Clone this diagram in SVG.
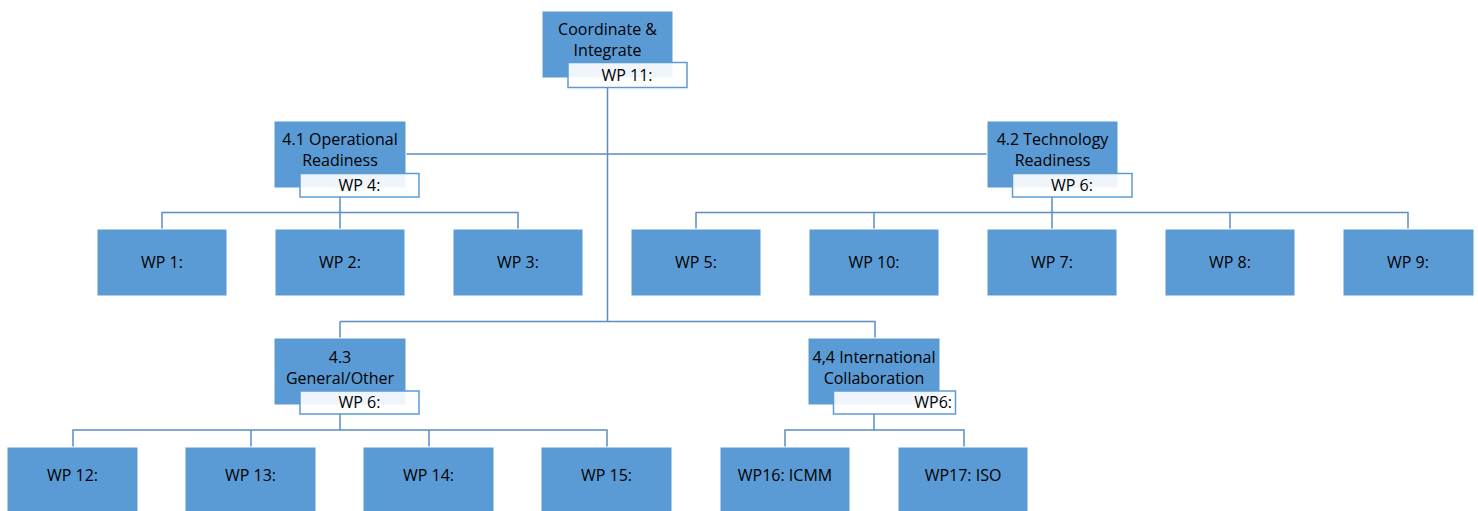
<svg xmlns="http://www.w3.org/2000/svg" width="1478" height="511" viewBox="0 0 1478 511">
<style>
.box{fill:#5b9bd5;stroke:#ffffff;stroke-width:1}
.lbl{fill:#ffffff;fill-opacity:0.9;stroke:#5b9bd5;stroke-width:1.5}
.t{font-family:"Open Sans","Liberation Sans",sans-serif;font-size:16px;fill:#000;text-anchor:middle}
.c{fill:none;stroke:#5b8cc4;stroke-width:1.5}
</style>
<rect width="1478" height="511" fill="#ffffff"/>
<g id="connectors">
<path class="c" d="M607.5 88V321.5M406 154H987M340 321.5H875V339M340 321.5V339"/>
<path class="c" d="M340 197V212.5M162 229V212.5H518V229M340 212.5V229"/>
<path class="c" d="M1052 197V212.5M696 229V212.5H1408V229M874 212.5V229M1052 212.5V229M1230 212.5V229"/>
<path class="c" d="M340 414V430M73 447V430H607V447M251 430V447M429 430V447"/>
<path class="c" d="M874 414V430M785 447V430H964V447"/>
</g>
<g id="n-top">
<rect class="box" x="542" y="11" width="131" height="67"/>
<text class="t" x="607.5" y="35">Coordinate &amp;</text>
<text class="t" x="607.5" y="56">Integrate</text>
<rect class="lbl" x="568" y="62.5" width="119" height="25"/>
<text class="t" x="627" y="81">WP 11:</text>
</g>
<g id="n-41">
<rect class="box" x="274" y="121" width="132" height="67"/>
<text class="t" x="340" y="145">4.1 Operational</text>
<text class="t" x="340" y="166">Readiness</text>
<rect class="lbl" x="300" y="173.5" width="119" height="23.5"/>
<text class="t" x="359.5" y="191">WP 4:</text>
</g>
<g id="n-42">
<rect class="box" x="987" y="121" width="131" height="67"/>
<text class="t" x="1052.5" y="145">4.2 Technology</text>
<text class="t" x="1052.5" y="166">Readiness</text>
<rect class="lbl" x="1012.5" y="173.5" width="119.5" height="23.5"/>
<text class="t" x="1072" y="191">WP 6:</text>
</g>
<g id="n-43">
<rect class="box" x="274" y="338" width="132" height="67"/>
<text class="t" x="340" y="363">4.3</text>
<text class="t" x="340" y="384">General/Other</text>
<rect class="lbl" x="300" y="391" width="119" height="23"/>
<text class="t" x="359.5" y="408">WP 6:</text>
</g>
<g id="n-44">
<rect class="box" x="808" y="338" width="132" height="67"/>
<text class="t" x="874" y="363">4,4 International</text>
<text class="t" x="874" y="384">Collaboration</text>
<rect class="lbl" x="833.5" y="391" width="122" height="23"/>
<text class="t" x="952" y="408" style="text-anchor:end">WP6:</text>
</g>
<g id="n-wp1"><rect class="box" x="97" y="229" width="130" height="67"/><text class="t" x="162" y="268">WP 1:</text></g>
<g id="n-wp2"><rect class="box" x="275" y="229" width="130" height="67"/><text class="t" x="340" y="268">WP 2:</text></g>
<g id="n-wp3"><rect class="box" x="453" y="229" width="130" height="67"/><text class="t" x="518" y="268">WP 3:</text></g>
<g id="n-wp5"><rect class="box" x="631" y="229" width="130" height="67"/><text class="t" x="696" y="268">WP 5:</text></g>
<g id="n-wp10"><rect class="box" x="809" y="229" width="130" height="67"/><text class="t" x="874" y="268">WP 10:</text></g>
<g id="n-wp7"><rect class="box" x="987" y="229" width="130" height="67"/><text class="t" x="1052" y="268">WP 7:</text></g>
<g id="n-wp8"><rect class="box" x="1165" y="229" width="130" height="67"/><text class="t" x="1230" y="268">WP 8:</text></g>
<g id="n-wp9"><rect class="box" x="1343" y="229" width="131" height="67"/><text class="t" x="1408" y="268">WP 9:</text></g>
<g id="n-wp12"><rect class="box" x="7" y="447" width="131" height="66"/><text class="t" x="72.5" y="481">WP 12:</text></g>
<g id="n-wp13"><rect class="box" x="185" y="447" width="131" height="66"/><text class="t" x="250.5" y="481">WP 13:</text></g>
<g id="n-wp14"><rect class="box" x="363" y="447" width="131" height="66"/><text class="t" x="428.5" y="481">WP 14:</text></g>
<g id="n-wp15"><rect class="box" x="541" y="447" width="131" height="66"/><text class="t" x="606.5" y="481">WP 15:</text></g>
<g id="n-wp16"><rect class="box" x="720" y="447" width="130" height="66"/><text class="t" x="785" y="481">WP16: ICMM</text></g>
<g id="n-wp17"><rect class="box" x="898" y="447" width="130" height="66"/><text class="t" x="963" y="481">WP17: ISO</text></g>
</svg>
